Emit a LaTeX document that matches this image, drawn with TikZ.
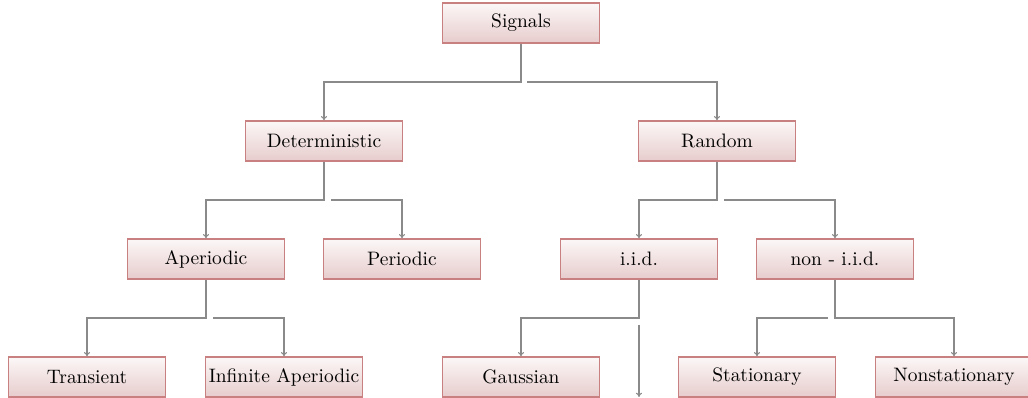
\documentclass[tikz,border=0pt]{standalone}
\usetikzlibrary{calc,arrows.meta}
\definecolor{boxline}{RGB}{200,128,128}
\definecolor{boxtop}{RGB}{252,247,247}
\definecolor{boxbot}{RGB}{231,204,204}
\definecolor{linkgray}{RGB}{138,138,138}
\tikzset{
  sigbox/.style={draw=boxline, line width=0.6pt, top color=boxtop, bottom color=boxbot,
    minimum width=81pt, minimum height=20.6pt, inner sep=0pt, font=\normalsize},
  link/.style={draw=linkgray, line width=0.55pt, -{To[length=2.2pt,width=3.2pt]}},
}
\begin{document}
\begin{tikzpicture}[x=0.514pt,y=-0.514pt]
\useasboundingbox (0,0) rectangle (1028,398);

% boxes
\node[sigbox] (sig) at (521,23) {Signals};
\node[sigbox] (det) at (324,141) {Deterministic};
\node[sigbox] (ran) at (717,141) {Random};
\node[sigbox] (ape) at (206,259) {Aperiodic};
\node[sigbox] (per) at (402,259) {Periodic};
\node[sigbox] (iid) at (639,259) {i.i.d.};
\node[sigbox] (nid) at (835,259) {non - i.i.d.};
\node[sigbox] (tra) at (87,377) {Transient};
\node[sigbox] (inf) at (284,377) {Infinite Aperiodic};
\node[sigbox] (gau) at (521,377) {Gaussian};
\node[sigbox] (sta) at (757,377) {Stationary};
\node[sigbox] (non) at (954,377) {Nonstationary};

% junction levels
\coordinate (j1) at (0,82);
\coordinate (j2) at (0,200);
\coordinate (j3) at (0,318);
\coordinate (iidend) at (639,397);

% Signals
\draw[link] (sig.south) -- (sig.south |- j1) -| (det.north);
\draw[link] ($(sig.south |- j1)+(6,0)$) -| (ran.north);
% Deterministic
\draw[link] (det.south) -- (det.south |- j2) -| (ape.north);
\draw[link] ($(det.south |- j2)+(7,0)$) -| (per.north);
% Random
\draw[link] (ran.south) -- (ran.south |- j2) -| (iid.north);
\draw[link] ($(ran.south |- j2)+(7,0)$) -| (nid.north);
% Aperiodic
\draw[link] (ape.south) -- (ape.south |- j3) -| (tra.north);
\draw[link] ($(ape.south |- j3)+(7,0)$) -| (inf.north);
% i.i.d.
\draw[link] (iid.south) -- (iid.south |- j3) -| (gau.north);
\draw[link] ($(iid.south |- j3)+(0,7)$) -- (iidend);
% non - i.i.d.
\draw[link] (nid.south) -- (nid.south |- j3) -| (non.north);
\draw[link] ($(nid.south |- j3)+(-7,0)$) -| (sta.north);
\end{tikzpicture}
\end{document}
